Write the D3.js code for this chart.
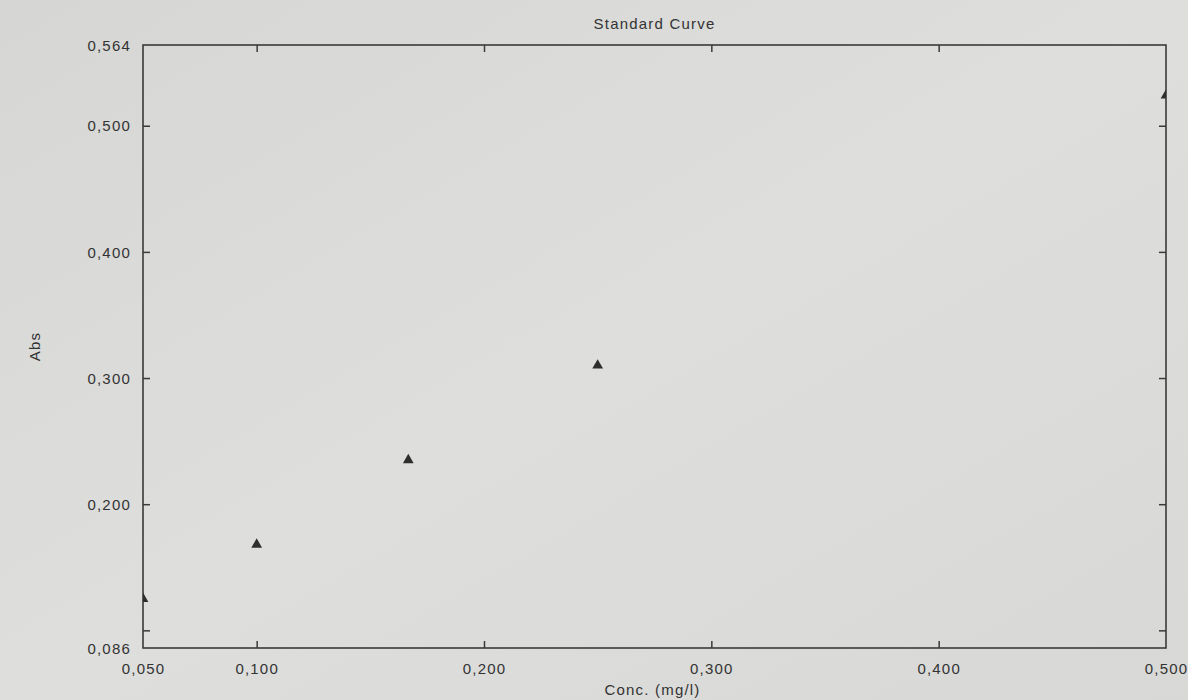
<!DOCTYPE html>
<html>
<head>
<meta charset="utf-8">
<script src="https://cdn.jsdelivr.net/npm/d3@7/dist/d3.min.js"></script>
<style>
  html, body { margin: 0; padding: 0; background: #d9d9d7; }
  svg { display: block; }
  text { font-family: "Liberation Sans", Arial, sans-serif; fill: #333; letter-spacing: 1.2px; }
</style>
</head>
<body>
<svg id="chart" width="1188" height="700"></svg>
<script>
// Data
const conc = [0.05, 0.1, 0.1667, 0.25, 0.5];
const absValues = [0.125, 0.168, 0.235, 0.310, 0.524];
const xTicks = [0.05, 0.1, 0.2, 0.3, 0.4, 0.5];
const xTickLabels = ["0,050", "0,100", "0,200", "0,300", "0,400", "0,500"];
const yTicks = [0.086, 0.1, 0.2, 0.3, 0.4, 0.5, 0.564];
const yTickLabels = ["0,086", "", "0,200", "0,300", "0,400", "0,500", "0,564"];
const title = "Standard Curve";
const xTitle = "Conc. (mg/l)";
const yTitle = "Abs";

const svg = d3.select("#chart");
const W = 1188, H = 700;
const m = { left: 143, right: 22, top: 45, bottom: 52 };
const iw = W - m.left - m.right, ih = H - m.top - m.bottom;
const fs = 15;

// background paper tone
const defs = svg.append("defs");
const grad = defs.append("linearGradient").attr("id", "paper").attr("x1", "0").attr("x2", "1").attr("y1", "0").attr("y2", "1");
grad.append("stop").attr("offset", "0").attr("stop-color", "#d6d6d4");
grad.append("stop").attr("offset", "0.5").attr("stop-color", "#dededc");
grad.append("stop").attr("offset", "1").attr("stop-color", "#d8d8d6");
svg.append("rect").attr("width", W).attr("height", H).attr("fill", "url(#paper)");

defs.append("clipPath").attr("id", "clip").append("rect")
  .attr("x", 0).attr("y", 0).attr("width", iw).attr("height", ih);

const g = svg.append("g").attr("transform", `translate(${m.left},${m.top})`);

const x = d3.scaleLinear().domain([0.05, 0.5]).range([0, iw]);
const y = d3.scaleLinear().domain([0.086, 0.564]).range([ih, 0]);

const tickLen = 7;
const axisColor = "#3a3a3a";

// frame
g.append("rect").attr("width", iw).attr("height", ih)
  .attr("fill", "none").attr("stroke", axisColor).attr("stroke-width", 1.6);

// bottom axis
const xAxis = d3.axisBottom(x).tickValues(xTicks)
  .tickFormat((d, i) => xTickLabels[i]).tickSize(-tickLen).tickPadding(15);
const gx = g.append("g").attr("transform", `translate(0,${ih})`).call(xAxis);
// top axis ticks
const gxt = g.append("g").call(d3.axisTop(x).tickValues(xTicks).tickFormat("").tickSize(-tickLen));
// left axis
const yAxis = d3.axisLeft(y).tickValues(yTicks)
  .tickFormat((d, i) => yTickLabels[i]).tickSize(-tickLen).tickPadding(12);
const gy = g.append("g").call(yAxis);
// right axis ticks
const gyr = g.append("g").attr("transform", `translate(${iw},0)`)
  .call(d3.axisRight(y).tickValues(yTicks).tickFormat("").tickSize(-tickLen));

[gx, gxt, gy, gyr].forEach(a => {
  a.select(".domain").remove();
  a.selectAll(".tick line").attr("stroke", axisColor).attr("stroke-width", 1.5);
  a.selectAll("text").attr("font-size", fs).attr("fill", "#333");
});
// hide end ticks that coincide with frame corners
gx.selectAll(".tick").filter(d => d === 0.05 || d === 0.5).select("line").remove();
gxt.selectAll(".tick").filter(d => d === 0.05 || d === 0.5).remove();
gy.selectAll(".tick").filter(d => d === 0.086 || d === 0.564).select("line").remove();
gyr.selectAll(".tick").filter(d => d === 0.086 || d === 0.564).remove();
gy.selectAll(".tick text").attr("dy", "0.35em");

// points
const tri = d3.symbol().type(d3.symbolTriangle).size(50);
g.append("g").attr("clip-path", "url(#clip)")
  .selectAll("path").data(conc).join("path")
  .attr("d", tri)
  .attr("transform", (d, i) => `translate(${x(d)},${y(absValues[i])})`)
  .attr("fill", "#2e2e2e");

// titles
svg.append("text").attr("x", m.left + iw / 2).attr("y", 29)
  .attr("text-anchor", "middle").attr("font-size", fs).text(title);
svg.append("text").attr("x", m.left + iw / 2 - 2).attr("y", 695)
  .attr("text-anchor", "middle").attr("font-size", fs).text(xTitle);
svg.append("text").attr("transform", `translate(40,${m.top + ih / 2}) rotate(-90)`)
  .attr("text-anchor", "middle").attr("font-size", fs).text(yTitle);
</script>
</body>
</html>
